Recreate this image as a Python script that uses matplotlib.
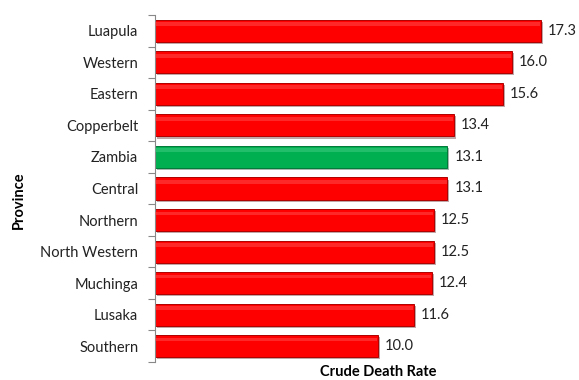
#!/usr/bin/env python3
"""Crude death rate by province, horizontal bar chart."""

import matplotlib

matplotlib.use("Agg")
import matplotlib.pyplot as plt
import matplotlib.patheffects as pe
import numpy as np

provinces = ["Luapula", "Western", "Eastern", "Copperbelt", "Zambia", "Central",
             "Northern", "North Western", "Muchinga", "Lusaka", "Southern"]
crude_death_rate = [17.3, 16.0, 15.6, 13.4, 13.1, 13.1, 12.5, 12.5, 12.4, 11.6, 10.0]
highlight = "Zambia"

RED = "#FF0000"
RED_EDGE = "#B00000"
RED_LIGHT = "#FF5A5A"
GREEN = "#00B050"
GREEN_EDGE = "#007A38"
GREEN_LIGHT = "#4CD08A"


def main() -> None:
    plt.rcParams.update({"font.family": ["Lato", "DejaVu Sans"]})
    fig = plt.figure(figsize=(5.79, 3.80), dpi=100)
    ax = fig.add_axes([155 / 579, 1 - 362 / 380, 424 / 579, 347 / 380])

    y = np.arange(len(provinces))
    face = [GREEN if p == highlight else RED for p in provinces]
    edge = [GREEN_EDGE if p == highlight else RED_EDGE for p in provinces]
    light = [GREEN_LIGHT if p == highlight else RED_LIGHT for p in provinces]

    bars = ax.barh(y, crude_death_rate, height=0.7, color=face, edgecolor=edge,
                   linewidth=0.7, zorder=2)
    for b in bars:
        b.set_path_effects([pe.SimplePatchShadow(offset=(1.5, -1.5), alpha=0.35),
                            pe.Normal()])
    # light sheen on the upper part of each bar
    ax.barh(y - 0.21, np.array(crude_death_rate) - 0.05, height=0.12, left=0.02,
            color=light, linewidth=0, alpha=0.45, zorder=3)

    for yi, v in zip(y, crude_death_rate):
        ax.annotate(f"{v:.1f}", (v, yi), xytext=(5, 0), textcoords="offset points",
                    va="center", ha="left", fontsize=10.5, color="#222222")

    ax.set_xlim(0, 19)
    ax.set_ylim(len(provinces) - 0.5, -0.5)
    ax.set_yticks(y)
    ax.set_yticklabels(provinces, fontsize=10.5, color="#222222")
    ax.set_yticks(np.arange(len(provinces) + 1) - 0.5, minor=True)
    ax.tick_params(axis="y", which="major", length=0, pad=12)
    ax.tick_params(axis="y", which="minor", length=5, color="#888888", width=0.8)
    ax.set_xticks([])
    for side in ("top", "right", "bottom"):
        ax.spines[side].set_visible(False)
    ax.spines["left"].set_color("#888888")
    ax.spines["left"].set_linewidth(0.8)

    fig.text(378 / 579, 1 - 372 / 380, "Crude Death Rate", ha="center", va="center",
             fontsize=10.5, fontweight="bold")
    fig.text(19 / 579, 1 - 200 / 380, "Province", ha="center", va="center",
             rotation=90, fontsize=10.5, fontweight="bold")

    fig.savefig("out.png", dpi=100)


if __name__ == "__main__":
    main()
